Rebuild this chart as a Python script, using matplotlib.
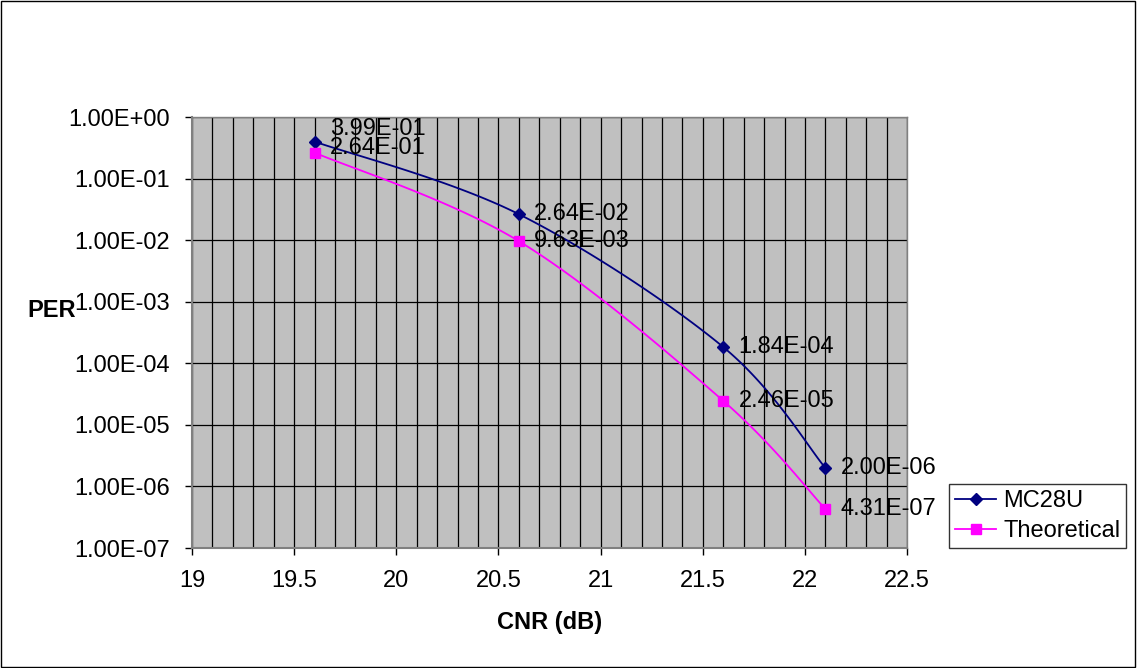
import numpy as np
import matplotlib
matplotlib.use("Agg")
from matplotlib import pyplot as plt, ticker as mticker
from matplotlib.patches import Rectangle

plt.rcParams['font.family'] = ['Liberation Sans', 'DejaVu Sans']

cnr = [19.6, 20.6, 21.6, 22.1]
per_mc28u = [3.99e-1, 2.64e-2, 1.84e-4, 2.00e-6]
per_theory = [2.64e-1, 9.63e-3, 2.46e-5, 4.31e-7]
series_names = ['MC28U', 'Theoretical']
y_ticks = [1e0, 1e-1, 1e-2, 1e-3, 1e-4, 1e-5, 1e-6, 1e-7]
x_ticks = [19, 19.5, 20, 20.5, 21, 21.5, 22, 22.5]

FS = 17


def smooth(xs, ys, n=40):
    # Catmull-Rom through the points, done in log space for the y values
    px = np.array(xs, dtype=float)
    py = np.log10(np.array(ys, dtype=float))
    px = np.concatenate([[px[0]], px, [px[-1]]])
    py = np.concatenate([[py[0]], py, [py[-1]]])
    out_x, out_y = [], []
    t = np.linspace(0, 1, n)
    for i in range(1, len(px) - 2):
        for arr, out in ((px, out_x), (py, out_y)):
            p0, p1, p2, p3 = arr[i - 1], arr[i], arr[i + 1], arr[i + 2]
            c1 = p1 + (p2 - p0) / 6
            c2 = p2 - (p3 - p1) / 6
            seg = ((1 - t) ** 3 * p1 + 3 * (1 - t) ** 2 * t * c1
                   + 3 * (1 - t) * t ** 2 * c2 + t ** 3 * p2)
            out.extend(seg)
    return np.array(out_x), 10 ** np.array(out_y)


fig = plt.figure(figsize=(11.37, 6.68), dpi=100)
ax = fig.add_axes([0.1689, 0.1796, 0.6289, 0.6452])
ax.set_facecolor('#C0C0C0')

ax.set_yscale('log')
ax.set_xlim(19, 22.5)
ax.set_ylim(1e-7, 1e0)
ax.set_xticks(x_ticks)
ax.xaxis.set_major_formatter(mticker.FormatStrFormatter('%g'))
ax.xaxis.set_minor_locator(mticker.MultipleLocator(0.1))
ax.set_yticks(y_ticks)
ax.yaxis.set_major_formatter(mticker.FuncFormatter(lambda v, p: f"{v:.2E}"))
ax.yaxis.set_minor_locator(mticker.NullLocator())
ax.tick_params(axis='both', which='major', direction='out', length=5,
               width=1, color='black', labelsize=FS, pad=11)
ax.tick_params(axis='x', which='minor', length=0)
ax.grid(True, which='both', axis='x', color='black', linewidth=0.9)
ax.grid(True, which='major', axis='y', color='black', linewidth=0.9)
ax.set_axisbelow(True)
for side in ['left', 'bottom']:
    ax.spines[side].set_color('#808080')
    ax.spines[side].set_linewidth(1.5)
for side in ['top', 'right']:
    ax.spines[side].set_color('#808080')
    ax.spines[side].set_linewidth(1.0)

sx, sy = smooth(cnr, per_mc28u)
ax.plot(sx, sy, color='#000080', linewidth=1.3)
ax.plot(cnr, per_mc28u, linestyle='none', marker='D', markersize=6,
        color='#000080')
tx, ty = smooth(cnr, per_theory)
ax.plot(tx, ty, color='#FF00FF', linewidth=1.3)
ax.plot(cnr, per_theory, linestyle='none', marker='s', markersize=7,
        color='#FF00FF')

# the two top labels sit a little higher so they don't collide
mc_lift = [9, 0, 0, 0]
th_lift = [3.5, 0, 0, 0]
for x, y, dy in zip(cnr, per_mc28u, mc_lift):
    ax.annotate(f"{y:.2E}", (x, y), xytext=(11, dy), textcoords='offset points',
                va='center', ha='left', fontsize=FS)
for x, y, dy in zip(cnr, per_theory, th_lift):
    ax.annotate(f"{y:.2E}", (x, y), xytext=(11, dy), textcoords='offset points',
                va='center', ha='left', fontsize=FS)

fig.text(549.5 / 1137, 1 - 623 / 668, 'CNR (dB)', ha='center', va='center',
         fontsize=FS, fontweight='bold')
fig.text(76 / 1137, 1 - 311 / 668, 'PER', ha='right', va='center',
         fontsize=FS, fontweight='bold')

handles = [
    plt.Line2D([], [], color='#000080', marker='D', markersize=6, linewidth=1.3),
    plt.Line2D([], [], color='#FF00FF', marker='s', markersize=7, linewidth=1.3),
]
leg = fig.legend(handles, series_names, loc='lower left',
                 bbox_to_anchor=(949 / 1137, 1 - 548 / 668), fontsize=FS,
                 frameon=True, fancybox=False, edgecolor='black',
                 borderpad=0.25, handlelength=1.75, handletextpad=0.3,
                 labelspacing=0.35, borderaxespad=0)
leg.get_frame().set_linewidth(1.0)

fig.patches.append(Rectangle((0.0005, 0.001), 0.998, 0.997, fill=False,
                             edgecolor='black', linewidth=1.0,
                             transform=fig.transFigure, figure=fig))

fig.savefig('out.png', dpi=100)
